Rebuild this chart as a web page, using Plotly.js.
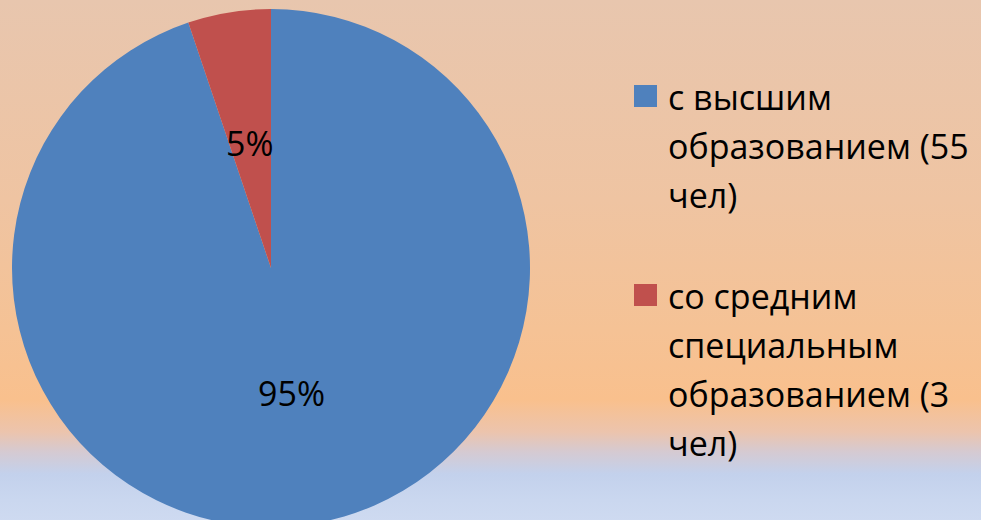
<!DOCTYPE html>
<html>
<head>
<meta charset="utf-8">
<script src="https://cdn.plot.ly/plotly-3.0.1.min.js"></script>
<style>
  html, body { margin: 0; padding: 0; overflow: hidden; width: 981px; height: 520px; }
  #chart {
    width: 981px; height: 540px;
    background: linear-gradient(to bottom,
      #e8c6ae 0px, #efc4a2 200px, #f5c295 330px, #f9c08d 400px,
      #ecc4ad 432px, #d5cad2 452px, #c3d1ec 474px, #cad7ef 500px, #d2ddf2 540px);
  }
</style>
</head>
<body>
<div id="chart"></div>
<script>
// ---- data ----
const categories = ['с высшим образованием (55 чел)', 'со средним специальным образованием (3 чел)'];
const counts = [55, 3];
const colors = ['#4f81bd', '#c0504d'];

// ---- layout constants (pixels) ----
const W = 981, H = 540;
const cx = 271, cy = 268, R = 259;
const labelRadius = 0.49;
const legendX = 634, legendTextX = 666, legendTop = 97, lineStep = 49, maxChars = 16;
const fontFamily = '"Open Sans", "Noto Sans", sans-serif';

function wrap(text, max) {
  const words = text.split(' ');
  const lines = [];
  let cur = '';
  words.forEach(w => {
    if (!cur) cur = w;
    else if ((cur + ' ' + w).length <= max) cur += ' ' + w;
    else { lines.push(cur); cur = w; }
  });
  if (cur) lines.push(cur);
  return lines;
}

const px = x => x / W;
const py = y => 1 - y / H;

const annotations = [];
const shapes = [];

// percentage labels on the slices (clockwise from 12 o'clock)
const total = counts.reduce((a, b) => a + b, 0);
let cum = 0;
counts.forEach((v, i) => {
  const mid = (cum + v / 2) / total * 2 * Math.PI;
  cum += v;
  const x = cx + Math.sin(mid) * R * labelRadius;
  const y = cy - Math.cos(mid) * R * labelRadius;
  annotations.push({
    xref: 'paper', yref: 'paper', x: px(x), y: py(y),
    xanchor: 'center', yanchor: 'middle', showarrow: false,
    text: Math.round(v / total * 100) + '%',
    font: { family: fontFamily, size: 34, color: '#000000' }
  });
});

// legend
let yLine = legendTop;
categories.forEach((cat, i) => {
  const lines = wrap(cat, maxChars);
  shapes.push({
    type: 'rect', xref: 'paper', yref: 'paper',
    x0: px(legendX), x1: px(legendX + 23),
    y0: py(yLine - 12), y1: py(yLine + 10),
    fillcolor: colors[i], line: { width: 0 }
  });
  lines.forEach(l => {
    annotations.push({
      xref: 'paper', yref: 'paper', x: px(legendTextX), y: py(yLine),
      xanchor: 'left', yanchor: 'middle', showarrow: false, text: l,
      font: { family: fontFamily, size: 34, color: '#000000' }
    });
    yLine += lineStep;
  });
  yLine += lineStep + 3;
});

const trace = {
  type: 'pie',
  labels: categories,
  values: counts,
  sort: false,
  direction: 'clockwise',
  rotation: 0,
  marker: { colors: colors, line: { width: 0 } },
  textinfo: 'none',
  hoverinfo: 'label+value+percent',
  domain: { x: [px(cx - R), px(cx + R)], y: [py(cy + R), py(cy - R)] },
  showlegend: false
};

const layout = {
  width: W, height: H,
  margin: { l: 0, r: 0, t: 0, b: 0, pad: 0 },
  paper_bgcolor: 'rgba(0,0,0,0)',
  plot_bgcolor: 'rgba(0,0,0,0)',
  showlegend: false,
  annotations: annotations,
  shapes: shapes
};

Plotly.newPlot('chart', [trace], layout, { displayModeBar: false, staticPlot: true });
</script>
</body>
</html>
